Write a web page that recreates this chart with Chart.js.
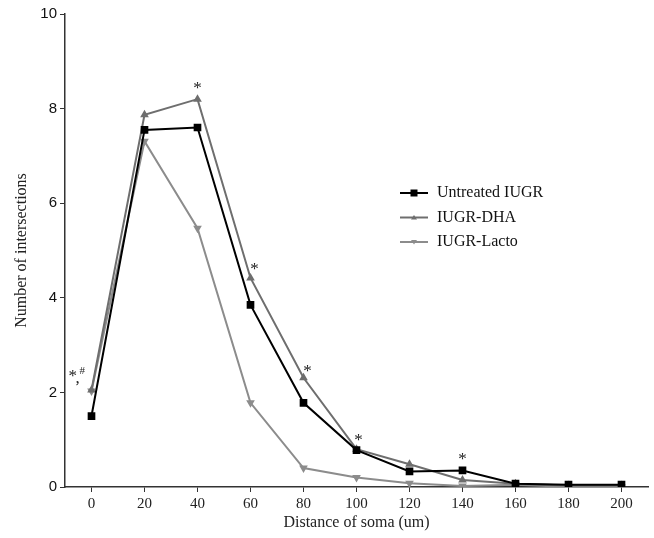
<!DOCTYPE html>
<html lang="en">
<head>
<meta charset="UTF-8">
<title>Sholl analysis</title>
<script src="https://cdn.jsdelivr.net/npm/chart.js@4/dist/chart.umd.min.js"></script>
<style>
  body { margin: 0; background: #fff; }
</style>
</head>
<body>
<canvas id="myChart" width="654" height="538"></canvas>
<script>
// distances from soma (um)
const distances = [0, 20, 40, 60, 80, 100, 120, 140, 160, 180, 200];
const untreated = [1.5, 7.55, 7.6, 3.85, 1.78, 0.78, 0.33, 0.35, 0.07, 0.05, 0.05];
const dha       = [2.05, 7.87, 8.2, 4.42, 2.31, 0.8, 0.48, 0.15, 0.07, 0.03, 0.03];
const lacto     = [2.03, 7.31, 5.47, 1.78, 0.4, 0.2, 0.08, 0.02, 0.05, 0.0, 0.0];
const seriesNames = ['Untreated IUGR', 'IUGR-DHA', 'IUGR-Lacto'];
const xTicks = [0, 20, 40, 60, 80, 100, 120, 140, 160, 180, 200];
const yTicks = [0, 2, 4, 6, 8, 10];
// significance marks: x, y (data units) and text
const marks = [
  { x: 0, y: 2.05, text: '*,#' },
  { x: 40, y: 8.2, text: '*' },
  { x: 60, y: 4.42, text: '*' },
  { x: 80, y: 2.31, text: '*' },
  { x: 100, y: 0.8, text: '*' },
  { x: 140, y: 0.35, text: '*' }
];

// pixel offsets for the marks (style only)
const markOffsets = {
  '0': [-15, -16], '40': [0, -11], '60': [4, -8], '80': [4, -6], '100': [2, -9], '140': [0, -11]
};

const toPts = arr => distances.map((d, i) => ({ x: d, y: arr[i] }));

const colors = ['#000000', '#6e6e6e', '#8c8c8c'];

const marksPlugin = {
  id: 'marks',
  afterDatasetsDraw(chart) {
    const ctx = chart.ctx;
    const xs = chart.scales.x, ys = chart.scales.y;
    ctx.save();
    ctx.fillStyle = '#222';
    ctx.font = '17px "Liberation Serif", "Times New Roman", serif';
    ctx.textAlign = 'center';
    ctx.textBaseline = 'middle';
    marks.forEach(m => {
      const off = markOffsets[String(m.x)] || [0, -12];
      const px = xs.getPixelForValue(m.x) + off[0];
      const py = ys.getPixelForValue(m.y) + off[1];
      if (m.text === '*,#') {
        ctx.textAlign = 'left';
        ctx.fillText('*', px - 8, py + 2);
        ctx.fillText(',', px - 1, py + 4);
        ctx.font = '11px "Liberation Serif", serif';
        ctx.fillText('#', px + 3, py - 3);
        ctx.font = '17px "Liberation Serif", "Times New Roman", serif';
        ctx.textAlign = 'center';
      } else {
        ctx.fillText(m.text, px, py);
      }
    });

    // legend
    const lx = 400, ly = 193, gap = 24.5;
    chart.data.datasets.forEach((ds, i) => {
      const y = ly + i * gap;
      ctx.strokeStyle = ds.borderColor;
      ctx.lineWidth = 2;
      ctx.beginPath();
      ctx.moveTo(lx, y);
      ctx.lineTo(lx + 28, y);
      ctx.stroke();
      ctx.fillStyle = ds.borderColor;
      const cx = lx + 14;
      ctx.beginPath();
      if (ds.pointStyle === 'rect') {
        ctx.rect(cx - 3.5, y - 3.5, 7, 7);
      } else if (ds.pointRotation === 180) {
        ctx.moveTo(cx - 3, y - 2); ctx.lineTo(cx + 3, y - 2); ctx.lineTo(cx, y + 2.5);
      } else {
        ctx.moveTo(cx - 3, y + 2); ctx.lineTo(cx + 3, y + 2); ctx.lineTo(cx, y - 2.5);
      }
      ctx.closePath();
      ctx.fill();
      ctx.fillStyle = '#111';
      ctx.textAlign = 'left';
      ctx.font = '16px "Liberation Serif", "Times New Roman", serif';
      ctx.fillText(ds.label, lx + 37, y);
    });
    ctx.restore();
  }
};

const ctx = document.getElementById('myChart').getContext('2d');
const myChart = new Chart(ctx, {
  type: 'line',
  data: {
    datasets: [
      { label: seriesNames[0], data: toPts(untreated), borderColor: colors[0], backgroundColor: colors[0],
        borderWidth: 2, pointStyle: 'rect', pointRadius: 4 },
      { label: seriesNames[1], data: toPts(dha), borderColor: colors[1], backgroundColor: colors[1],
        borderWidth: 2, pointStyle: 'triangle', pointRadius: 3 },
      { label: seriesNames[2], data: toPts(lacto), borderColor: colors[2], backgroundColor: colors[2],
        borderWidth: 2, pointStyle: 'triangle', pointRotation: 180, pointRadius: 3 }
    ]
  },
  options: {
    responsive: false,
    animation: false,
    layout: { padding: { top: 14, right: 4, left: 0, bottom: 0 } },
    plugins: { legend: { display: false }, tooltip: { enabled: false } },
    scales: {
      x: {
        type: 'linear',
        min: -10,
        max: 210,
        afterBuildTicks: s => { s.ticks = xTicks.map(v => ({ value: v })); },
        afterFit: s => { s.height = 51; },
        grid: { drawOnChartArea: false, drawTicks: true, tickLength: 5, color: '#333' },
        border: { color: '#333', width: 1.5 },
        ticks: { color: '#222', font: { family: '"Liberation Serif", serif', size: 15 }, padding: 3, maxRotation: 0 },
        title: { display: true, text: 'Distance of soma (um)', color: '#222',
          font: { family: '"Liberation Serif", serif', size: 16 }, padding: { top: 0, bottom: 6 } }
      },
      y: {
        min: 0,
        max: 10,
        afterBuildTicks: s => { s.ticks = yTicks.map(v => ({ value: v })); },
        afterFit: s => { s.width = 65; },
        grid: { drawOnChartArea: false, drawTicks: true, tickLength: 5, color: '#333' },
        border: { color: '#333', width: 1.5 },
        ticks: { color: '#111', font: { family: '"Liberation Sans", Arial, sans-serif', size: 15 }, padding: 3 },
        title: { display: true, text: 'Number of intersections', color: '#222',
          font: { family: '"Liberation Serif", serif', size: 16 }, padding: { top: 12, bottom: 0 } }
      }
    }
  },
  plugins: [marksPlugin]
});
</script>
</body>
</html>
